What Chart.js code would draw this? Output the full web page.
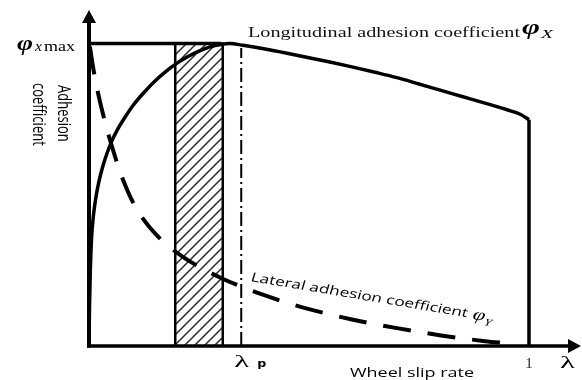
<!DOCTYPE html>
<html>
<head>
<meta charset="utf-8">
<script src="https://cdn.jsdelivr.net/npm/chart.js@4.4.1/dist/chart.umd.min.js"></script>
<style>
  html, body { margin: 0; padding: 0; background: #fff; }
  canvas { display: block; }
</style>
</head>
<body>
<canvas id="c" width="582" height="380"></canvas>
<script>
// Wheel slip rate (lambda) and adhesion coefficient (phi, normalised to phi_x max = 1)
const PHI_MAX = 1.0;
const LAMBDA_P = 0.346;          // optimal slip rate
const BAND = [0.196, 0.304];     // target slip band

const LONG_LAMBDA = [0, 0.001, 0.003, 0.006, 0.010, 0.015, 0.022, 0.030, 0.040, 0.052, 0.065, 0.080, 0.100, 0.125, 0.150, 0.175, 0.200, 0.225, 0.250, 0.275, 0.300, 0.320,
                     0.350, 0.400, 0.450, 0.500, 0.550, 0.600, 0.650, 0.700, 0.750, 0.800, 0.850, 0.900, 0.950, 0.980, 1.000];
const LONG_PHI    = [0, 0.12, 0.25, 0.36, 0.43, 0.485, 0.54, 0.587, 0.633, 0.678, 0.716, 0.752, 0.795, 0.838, 0.876, 0.908, 0.935, 0.957, 0.975, 0.989, 0.997, 1.0,
                     0.994, 0.982, 0.968, 0.953, 0.938, 0.922, 0.905, 0.887, 0.866, 0.845, 0.824, 0.803, 0.781, 0.766, 0.748];

const LAT_LAMBDA = [0.002, 0.010, 0.020, 0.032, 0.048, 0.065, 0.080, 0.100, 0.123, 0.150, 0.180, 0.215, 0.250, 0.300, 0.350, 0.400, 0.450, 0.500, 0.600, 0.700, 0.800, 0.900, 0.950];
const LAT_PHI    = [0.99, 0.915, 0.84, 0.765, 0.68, 0.60, 0.54, 0.475, 0.42, 0.372, 0.331, 0.293, 0.262, 0.225, 0.194, 0.167, 0.143, 0.122, 0.087, 0.059, 0.035, 0.016, 0.009];

const X_TICK_LABEL = '1';
const TXT_LONG = 'Longitudinal adhesion coefficient';
const TXT_LAT = 'Lateral adhesion coefficient';
const TXT_YTITLE = ['Adhesion', 'coefficient'];
const TXT_XTITLE = 'Wheel slip rate';

const pts = (xs, ys) => xs.map((x, i) => ({ x, y: ys[i] }));

// diagonal hatch pattern for the target band
function hatchPattern() {
  const s = 10;
  const c = document.createElement('canvas');
  c.width = s; c.height = s;
  const g = c.getContext('2d');
  g.strokeStyle = '#2a2a2a';
  g.lineWidth = 1.5;
  g.beginPath();
  g.moveTo(-2, s + 2); g.lineTo(s + 2, -2);
  g.moveTo(-2, 2); g.lineTo(2, -2);
  g.moveTo(s - 2, s + 2); g.lineTo(s + 2, s - 2);
  g.stroke();
  return g.createPattern(c, 'repeat');
}

// horizontally fitted text
function fitText(ctx, str, x, y, font, width) {
  ctx.save();
  ctx.font = font;
  const w = ctx.measureText(str).width;
  ctx.translate(x, y);
  ctx.scale(width / w, 1);
  ctx.fillText(str, 0, 0);
  ctx.restore();
}

const decor = {
  id: 'decor',
  afterDatasetsDraw(chart) {
    const ctx = chart.ctx;
    const xs = chart.scales.x, ys = chart.scales.y;
    const a = chart.chartArea;
    const x0 = xs.getPixelForValue(0), y0 = ys.getPixelForValue(0);
    ctx.save();
    ctx.fillStyle = '#000';
    ctx.strokeStyle = '#000';
    // axes with arrow heads
    ctx.lineWidth = 4;
    ctx.beginPath(); ctx.moveTo(x0, y0 + 1.5); ctx.lineTo(x0, a.top + 10); ctx.stroke();
    ctx.beginPath(); ctx.moveTo(x0, a.top); ctx.lineTo(x0 - 7, a.top + 13); ctx.lineTo(x0 + 7, a.top + 13); ctx.closePath(); ctx.fill();
    ctx.lineWidth = 3.5;
    ctx.beginPath(); ctx.moveTo(x0 - 2, y0); ctx.lineTo(a.right - 10, y0); ctx.stroke();
    ctx.beginPath(); ctx.moveTo(a.right, y0); ctx.lineTo(a.right - 13, y0 - 7); ctx.lineTo(a.right - 13, y0 + 7); ctx.closePath(); ctx.fill();

    ctx.textBaseline = 'alphabetic';
    // phi_x max label
    const yMax = ys.getPixelForValue(PHI_MAX);
    fitText(ctx, 'φ', 17, yMax + 6, 'italic bold 21px "Liberation Serif"', 16);
    fitText(ctx, 'x', 35, yMax + 7, 'italic 15px "Liberation Serif"', 7);
    fitText(ctx, 'max', 44, yMax + 7, '15px "Liberation Serif"', 31);

    // longitudinal label
    ctx.fillStyle = '#111';
    fitText(ctx, TXT_LONG, 248, 37, '15.5px "Liberation Serif"', 272);
    ctx.fillStyle = '#000';
    fitText(ctx, 'φ', 522, 34, 'italic bold 21px "Liberation Serif"', 18);
    fitText(ctx, 'X', 541, 38, 'italic 13px "Liberation Serif"', 12);

    // y title, rotated
    ctx.font = '13px "Open Sans"';
    [[58, 85, TXT_YTITLE[0]], [33, 83, TXT_YTITLE[1]]].forEach(([x, y, t]) => {
      ctx.save(); ctx.translate(x, y); ctx.scale(1.33, 1); ctx.rotate(Math.PI / 2); ctx.fillText(t, 0, 0); ctx.restore();
    });

    // lateral label along the dashed curve
    ctx.save();
    ctx.translate(250, 281);
    ctx.scale(1.33, 1);
    ctx.rotate(12.5 * Math.PI / 180);
    ctx.font = '12.5px "Open Sans"';
    const lw = ctx.measureText(TXT_LAT).width;
    const k = 167 / lw;
    ctx.save(); ctx.scale(k, 1); ctx.fillText(TXT_LAT, 0, 0); ctx.restore();
    ctx.font = 'italic 17px "Liberation Serif"';
    ctx.fillText('φ', 167 + 4, 1);
    ctx.font = 'italic 10px "Liberation Serif"';
    ctx.fillText('Y', 167 + 14, 5);
    ctx.restore();

    // x-axis labels
    const xp = xs.getPixelForValue(LAMBDA_P);
    fitText(ctx, 'λ', xp - 7, 367, '17px "Liberation Serif"', 15);
    fitText(ctx, 'p', xp + 16, 367, 'bold 10px "DejaVu Sans"', 9);
    const x1 = xs.getPixelForValue(1);
    ctx.fillStyle = '#333';
    fitText(ctx, X_TICK_LABEL, x1 - 4, 368, '14px "Liberation Serif"', 8);
    ctx.fillStyle = '#000';
    fitText(ctx, 'λ', 560, 368, '17px "Liberation Serif"', 15);
    fitText(ctx, TXT_XTITLE, 350, 377, '12px "Open Sans"', 124);
    ctx.restore();
  }
};

const common = { showLine: true, pointRadius: 0, borderColor: '#000', clip: false, fill: false };

new Chart(document.getElementById('c'), {
  type: 'scatter',
  data: {
    datasets: [
      { ...common, label: 'peak', order: 1, data: [{ x: 0, y: PHI_MAX }, { x: 0.3, y: PHI_MAX }], borderWidth: 3.5 },
      { ...common, label: 'longitudinal', order: 1, data: pts(LONG_LAMBDA, LONG_PHI), borderWidth: 3.5, cubicInterpolationMode: 'monotone' },
      { ...common, label: 'locked', order: 1, data: [{ x: 1, y: LONG_PHI[LONG_PHI.length - 1] }, { x: 1, y: 0 }], borderWidth: 3.5 },
      { ...common, label: 'lateral', order: 2, data: pts(LAT_LAMBDA, LAT_PHI), borderWidth: 4, borderDash: [28, 17], cubicInterpolationMode: 'monotone' },
      { ...common, label: 'optimal', order: 3, data: [{ x: LAMBDA_P, y: 0 }, { x: LAMBDA_P, y: 0.985 }], borderWidth: 2, borderDash: [14, 4, 2, 4] },
      { ...common, label: 'band', order: 10, data: [{ x: BAND[0], y: 0 }, { x: BAND[0], y: PHI_MAX }, { x: BAND[1], y: PHI_MAX }, { x: BAND[1], y: 0 }],
        borderWidth: 2.5, fill: 'origin', backgroundColor: hatchPattern() }
    ]
  },
  options: {
    responsive: false,
    animation: false,
    devicePixelRatio: 1,
    layout: { padding: { left: 89, right: 1, top: 10, bottom: 34 } },
    plugins: { legend: { display: false }, tooltip: { enabled: false } },
    scales: {
      x: { type: 'linear', display: false, min: 0, max: 492 / 440 },
      y: { type: 'linear', display: false, min: 0, max: 336 / 302.5 }
    }
  },
  plugins: [decor]
});
</script>
</body>
</html>
